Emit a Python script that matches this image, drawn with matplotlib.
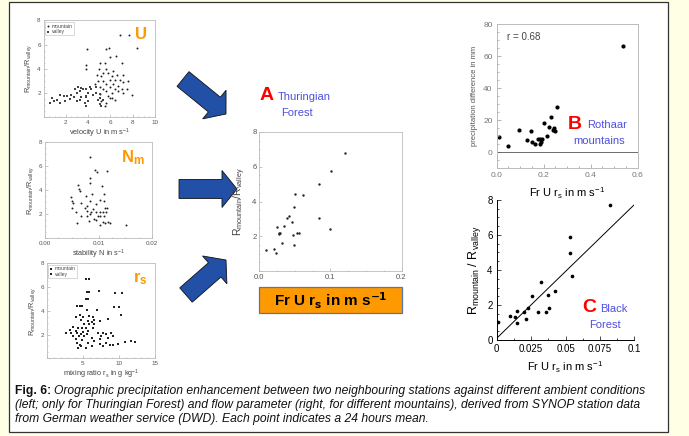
# -*- coding: utf-8 -*-

"""
Fig. 6: orographic precipitation enhancement vs. ambient conditions / flow parameter
"""

import matplotlib
matplotlib.use('Agg')
import matplotlib.pyplot as plt
from matplotlib.patches import Rectangle, FancyArrow
from matplotlib.ticker import MultipleLocator

matplotlib.rcParams['font.family'] = ['Liberation Sans', 'DejaVu Sans']
matplotlib.rcParams['mathtext.default'] = 'regular'

W, H = 689, 436

# ---- U panel (velocity) ----
u_mountain_x = [7.7, 6.85, 8.4, 3.9, 5.6, 5.9, 6.5, 5.95, 5.05, 3.8, 3.8, 7.0, 5.5, 5.0, 5.65,
                6.25, 5.8, 6.55, 7.1, 4.8, 5.2, 5.95, 6.4, 6.85, 5.35, 4.9, 7.15, 7.6, 5.65, 6.25,
                6.7, 5.95, 5.05, 4.6, 6.4, 7.0, 7.45, 6.1, 6.7, 7.15, 7.9, 5.35, 5.65, 6.1, 5.35,
                6.1, 5.05, 5.5, 5.65, 6.4, 5.2, 5.95, 5.8]
u_mountain_y = [6.8, 6.8, 5.75, 5.6, 5.6, 5.75, 5.05, 5.0, 4.45, 4.3, 4.0, 4.45, 4.45, 3.95, 3.95,
                3.8, 3.65, 3.5, 3.5, 3.45, 3.4, 3.1, 3.1, 3.1, 2.95, 2.95, 2.9, 2.95, 2.7, 2.7,
                2.6, 2.5, 2.5, 2.7, 2.35, 2.3, 2.35, 2.0, 2.15, 1.95, 1.8, 2.35, 2.15, 1.6, 3.65,
                3.4, 1.9, 0.95, 1.15, 1.45, 1.3, 1.55, 1.7]
u_valley_x = [4.15, 3.85, 3.55, 3.3, 4.3, 4.75, 5.05, 3.0, 2.5, 2.1, 1.8, 1.5, 2.4, 2.75, 3.4,
              3.8, 4.0, 4.4, 1.2, 0.6, 0.9, 1.9, 3.0, 3.3, 3.7, 4.0, 5.05, 5.35, 5.05, 3.85,
              1.5, 0.75, 2.85, 3.1, 3.4, 4.75, 3.85, 4.9, 5.2]
u_valley_y = [2.5, 2.35, 2.3, 2.15, 2.3, 2.0, 1.9, 2.0, 1.85, 1.7, 1.7, 1.85, 1.5, 1.65, 1.65,
              1.7, 1.95, 1.8, 1.45, 1.15, 1.3, 1.3, 1.35, 1.45, 1.15, 1.3, 1.6, 1.45, 1.05, 0.95,
              1.15, 1.6, 2.3, 2.5, 2.4, 2.5, 1.65, 1.45, 0.95]

# ---- N_m panel (stability) ----
n_x = [0.00833, 0.00926, 0.00975, 0.01154, 0.00846, 0.00833, 0.00617, 0.01062, 0.0063, 0.00648,
       0.00877, 0.01111, 0.00481, 0.00772, 0.00512, 0.00525, 0.00667, 0.00833, 0.01019, 0.01099,
       0.00957, 0.00784, 0.00506, 0.0074, 0.00895, 0.0113, 0.01167, 0.00586, 0.00784, 0.00864,
       0.00957, 0.01019, 0.0108, 0.01136, 0.00667, 0.00784, 0.00833, 0.01037, 0.01099, 0.00907,
       0.00821, 0.00957, 0.0108, 0.0113, 0.01173, 0.01222, 0.00599, 0.01019, 0.01512, 0.00994]
n_y = [6.77, 5.68, 5.54, 5.62, 5.0, 4.59, 4.43, 4.32, 4.05, 3.91,
       3.69, 3.69, 3.42, 3.5, 3.06, 2.95, 2.9, 3.06, 3.17, 3.06,
       2.82, 2.68, 2.54, 2.46, 2.4, 2.54, 2.51, 2.2, 2.23, 2.19,
       2.2, 2.13, 2.19, 2.2, 1.86, 1.86, 1.97, 1.8, 1.86, 1.59,
       1.43, 1.51, 1.37, 1.21, 1.32, 1.24, 1.24, 1.05, 1.05, 1.86]

# ---- r_s panel (mixing ratio) ----
rs_mountain_x = [5.46, 5.83, 5.6, 5.9, 7.2, 9.5, 10.4, 5.4, 5.7, 4.6, 4.9, 5.5, 6.9, 9.3, 10.0,
                 10.3, 5.8, 6.4, 5.7, 6.2, 6.5, 5.9, 6.6, 7.3, 8.5, 6.4, 5.7, 7.05, 7.8, 8.2,
                 8.9, 6.2, 7.55, 8.5, 7.3, 9.2, 6.6, 7.3, 8.2, 9.2, 9.9, 10.8, 11.7, 12.2, 8.7,
                 7.8, 6.2]
rs_mountain_y = [6.68, 6.68, 5.58, 5.6, 5.67, 5.53, 5.53, 4.99, 4.99, 4.38, 4.38, 4.03, 4.03, 4.3, 4.3,
                 3.62, 3.56, 3.48, 3.12, 3.07, 3.2, 2.85, 2.93, 3.12, 3.34, 2.58, 2.3, 2.1, 2.1, 2.03,
                 2.1, 1.75, 1.92, 1.75, 1.64, 1.84, 1.42, 1.2, 1.29, 1.15, 1.2, 1.37, 1.42, 1.37, 1.1,
                 1.01, 1.01]
rs_valley_x = [4.2, 4.55, 4.1, 5.0, 4.8, 5.2, 3.6, 4.3, 4.9, 5.46, 3.15, 4.0, 5.0, 2.7, 3.4,
               4.2, 4.8, 5.55, 3.6, 4.45, 5.2, 4.0, 4.9, 4.2, 4.55, 5.7, 4.8, 5.4, 4.3]
rs_valley_y = [4.38, 3.62, 3.48, 3.48, 3.2, 2.93, 2.66, 2.58, 2.52, 2.58, 2.38, 2.3, 2.25, 2.1, 2.1,
               2.1, 2.03, 2.03, 1.84, 1.84, 1.84, 1.64, 1.56, 1.29, 1.15, 1.29, 1.01, 0.88, 0.88]

# ---- A: Thuringian Forest ----
a_x = [0.0089, 0.0207, 0.0235, 0.0254, 0.0273, 0.0278, 0.0292, 0.0325, 0.0344, 0.0386, 0.0424, 0.0461,
       0.0475, 0.0485, 0.049, 0.0508, 0.0536, 0.0555, 0.0612, 0.0842, 0.0842, 0.0993, 0.1012, 0.121]
a_y = [1.2, 1.24, 1.03, 2.55, 2.19, 2.12, 2.17, 1.62, 2.59, 3.03, 3.17, 2.82,
       2.09, 3.7, 1.48, 4.45, 2.21, 2.19, 4.35, 5.03, 3.05, 2.44, 5.74, 6.77]

# ---- B: Rothaar mountains ----
b_x = [0.01, 0.05, 0.096, 0.129, 0.147, 0.15, 0.164, 0.174, 0.186, 0.19, 0.193,
       0.186, 0.2, 0.214, 0.221, 0.229, 0.24, 0.243, 0.246, 0.256, 0.539]
b_y = [9.3, 4.1, 14.1, 7.9, 13.0, 6.2, 5.2, 8.5, 8.3, 6.2, 8.3,
       5.2, 18.2, 10.0, 15.5, 22.0, 14.1, 15.1, 13.0, 28.2, 66.7]

# ---- C: Black Forest ----
c_x = [0.00125, 0.01, 0.0133, 0.0145, 0.015, 0.02, 0.0215, 0.0225, 0.026, 0.03, 0.032,
       0.0355, 0.037, 0.038, 0.0425, 0.053, 0.053, 0.055, 0.0825]
c_y = [1.05, 1.37, 1.31, 0.95, 1.68, 1.58, 1.22, 1.81, 2.53, 1.58, 3.3,
       1.58, 2.59, 1.81, 2.82, 5.87, 4.95, 3.68, 7.7]
c_line_x = [0.0, 0.1035]
c_line_y = [0.1, 8.0]

caption_lines = [
    'Orographic precipitation enhancement between two neighbouring stations against different ambient conditions',
    '(left; only for Thuringian Forest) and flow parameter (right, for different mountains), derived from SYNOP station data',
    'from German weather service (DWD). Each point indicates a 24 hours mean.',
]

ORANGE = '#FF9900'
BLUE_TXT = '#4F4FE0'
CAP_SIZE = 8.7


def box(left, top, right, bottom):
    """pixel box -> figure fraction rect"""
    return [left / W, 1 - bottom / H, (right - left) / W, (bottom - top) / H]


def fx(x):
    return x / W


def fy(y):
    return 1 - y / H


def small_axes(fig, rect, xlim, ylim, xmaj, ymaj, xmin, ymin):
    ax = fig.add_axes(rect)
    ax.set_xlim(xlim)
    ax.set_ylim(ylim)
    ax.xaxis.set_major_locator(MultipleLocator(xmaj))
    ax.yaxis.set_major_locator(MultipleLocator(ymaj))
    ax.xaxis.set_minor_locator(MultipleLocator(xmin))
    ax.yaxis.set_minor_locator(MultipleLocator(ymin))
    ax.tick_params(which='both', direction='in', colors='#999999', labelcolor='#555555',
                   labelsize=4.5, width=0.4, pad=2)
    ax.tick_params(which='major', length=2)
    ax.tick_params(which='minor', length=1)
    for sp in ax.spines.values():
        sp.set_color('#BBBBBB')
        sp.set_linewidth(0.6)
    ax.set_ylabel('R$_{mountain}$/R$_{valley}$', fontsize=5.3, color='#444444', labelpad=2)
    return ax


def hide_zero(ax, axis='both'):
    fmt = lambda v, p: '' if abs(v) < 1e-12 else '{:g}'.format(v)
    if axis in ('x', 'both'):
        ax.xaxis.set_major_formatter(fmt)
    if axis in ('y', 'both'):
        ax.yaxis.set_major_formatter(fmt)


def small_legend(ax):
    leg = ax.legend(loc='upper left', fontsize=3.6, frameon=True, handlelength=0.6,
                    handletextpad=0.4, borderpad=0.3, labelspacing=0.1, borderaxespad=0.3,
                    fancybox=False)
    leg.get_frame().set_edgecolor('#AAAAAA')
    leg.get_frame().set_linewidth(0.4)
    for t in leg.get_texts():
        t.set_color('#444444')


def main():
    fig = plt.figure(figsize=(W / 100, H / 100), dpi=100)
    fig.patch.set_facecolor('#FFFFE6')

    # overlay in pixel coordinates for panel, arrows and box
    bg = fig.add_axes([0, 0, 1, 1])
    bg.set_xlim(0, W)
    bg.set_ylim(H, 0)
    bg.axis('off')
    bg.add_patch(Rectangle((9, 2), 659, 430, fc='white', ec='#333333', lw=0.9))

    # arrows
    arrow_kw = dict(width=19, head_width=37, head_length=15, length_includes_head=True,
                    fc='#2150A6', ec='#111111', lw=0.6)
    bg.add_patch(FancyArrow(183, 79, 43, 35, **arrow_kw))
    bg.add_patch(FancyArrow(179, 189, 58, 0, **arrow_kw))
    bg.add_patch(FancyArrow(186, 295, 40, -35, **arrow_kw))

    # orange box
    bg.add_patch(Rectangle((259, 287), 143, 26, fc=ORANGE, ec='#5A74A8', lw=0.9))
    bg.text(330.5, 300.5, r'Fr U r$_\mathbf{s}$ in m s$^\mathbf{-1}$', ha='center', va='center',
            fontsize=11, fontweight='bold', color='black')

    # ---- U ----
    ax = small_axes(fig, box(43.5, 20.5, 155, 117), (0, 10), (0, 8), 2, 2, 0.5, 0.5)
    ax.scatter(u_mountain_x, u_mountain_y, s=2, c='#222222', marker='o', lw=0, label='mountain')
    ax.scatter(u_valley_x, u_valley_y, s=2, c='#444444', marker='s', lw=0, label='valley')
    hide_zero(ax)
    small_legend(ax)
    ax.set_xlabel('velocity U in m s$^{-1}$', fontsize=5.3, color='#444444', labelpad=1.5)
    ax.text(0.93, 0.93, 'U', transform=ax.transAxes, ha='right', va='top',
            fontsize=12, fontweight='bold', color=ORANGE)

    # ---- N_m ----
    ax = small_axes(fig, box(45, 142, 152, 238), (0, 0.02), (0, 8), 0.01, 2, 0.0025, 0.5)
    ax.scatter(n_x, n_y, s=2, c='#222222', marker='o', lw=0)
    hide_zero(ax, 'y')
    ax.set_xlabel('stability N in s$^{-1}$', fontsize=5.3, color='#444444', labelpad=1.5)
    ax.text(0.93, 0.93, 'N$_m$', transform=ax.transAxes, ha='right', va='top',
            fontsize=12, fontweight='bold', color=ORANGE)

    # ---- r_s ----
    ax = small_axes(fig, box(46.7, 263.3, 155.3, 358.3), (0, 15), (0, 8), 5, 2, 1, 0.5)
    ax.scatter(rs_mountain_x, rs_mountain_y, s=2.2, c='#222222', marker='s', lw=0, label='mountain')
    ax.scatter(rs_valley_x, rs_valley_y, s=2.2, c='#222222', marker='s', lw=0, label='valley')
    hide_zero(ax)
    small_legend(ax)
    ax.set_xlabel('mixing ratio r$_s$ in g kg$^{-1}$', fontsize=5.3, color='#444444', labelpad=1.5)
    ax.text(0.93, 0.93, 'r$_s$', transform=ax.transAxes, ha='right', va='top',
            fontsize=12, fontweight='bold', color=ORANGE)

    # ---- A ----
    ax = small_axes(fig, box(259.3, 132, 401.5, 271), (0, 0.2), (0, 8), 0.1, 2, 0.025, 0.5)
    ax.scatter(a_x, a_y, s=3, c='#222222', marker='o', lw=0)
    ax.tick_params(labelsize=5.5)
    hide_zero(ax, 'y')
    ax.set_ylabel('R$_{mountain}$/R$_{valley}$', fontsize=7.5, color='#444444', labelpad=3)
    fig.text(fx(260), fy(96), 'A', fontsize=14, fontweight='bold', color='red', va='center')
    fig.text(fx(278), fy(97), 'Thuringian', fontsize=8, color=BLUE_TXT, va='center')
    fig.text(fx(281), fy(113), 'Forest', fontsize=8, color=BLUE_TXT, va='center')

    # ---- B ----
    ax = fig.add_axes(box(496.7, 24.3, 637.7, 168.3))
    ax.scatter(b_x, b_y, s=9, c='black', lw=0)
    ax.axhline(0, color='#555555', lw=0.6)
    ax.set_xlim(0, 0.6)
    ax.set_ylim(-10, 80)
    ax.xaxis.set_major_locator(MultipleLocator(0.2))
    ax.xaxis.set_minor_locator(MultipleLocator(0.05))
    ax.yaxis.set_major_locator(MultipleLocator(20))
    ax.yaxis.set_minor_locator(MultipleLocator(5))
    ax.tick_params(which='both', direction='in', colors='#999999', labelcolor='#777777',
                   labelsize=6, width=0.5, pad=3)
    ax.tick_params(which='major', length=3)
    ax.tick_params(which='minor', length=1.5)
    for sp in ax.spines.values():
        sp.set_color('#BBBBBB')
        sp.set_linewidth(0.7)
    ax.set_ylabel('precipitation difference in mm', fontsize=5.5, color='#555555', labelpad=4)
    ax.set_xlabel(r'Fr U r$_s$ in m s$^{-1}$', fontsize=8, color='black', labelpad=4)
    ax.text(0.07, 0.91, 'r = 0.68', transform=ax.transAxes, fontsize=7, color='#444444', va='center')
    fig.text(fx(568), fy(124), 'B', fontsize=14, fontweight='bold', color='red', va='center')
    fig.text(fx(587), fy(125), 'Rothaar', fontsize=8, color=BLUE_TXT, va='center')
    fig.text(fx(573), fy(141), 'mountains', fontsize=8, color=BLUE_TXT, va='center')

    # ---- C ----
    ax = fig.add_axes(box(496.7, 200, 634.3, 340))
    ax.scatter(c_x, c_y, s=7, c='black', lw=0)
    ax.plot(c_line_x, c_line_y, color='black', lw=0.7)
    ax.set_xlim(0, 0.1)
    ax.set_ylim(0, 8)
    ax.xaxis.set_major_locator(MultipleLocator(0.025))
    ax.xaxis.set_minor_locator(MultipleLocator(0.0125))
    ax.yaxis.set_major_locator(MultipleLocator(2))
    ax.yaxis.set_minor_locator(MultipleLocator(0.5))
    ax.xaxis.set_major_formatter(lambda v, p: '{:g}'.format(round(v, 4)))
    ax.tick_params(which='both', direction='in', labelsize=7, width=0.5, pad=3)
    ax.tick_params(which='major', length=3)
    ax.tick_params(which='minor', length=1.5)
    ax.spines['top'].set_visible(False)
    ax.spines['right'].set_visible(False)
    for sp in ax.spines.values():
        sp.set_linewidth(0.7)
    ax.set_ylabel('R$_{mountain}$ / R$_{valley}$', fontsize=9, labelpad=3)
    ax.set_xlabel(r'Fr U r$_s$ in m s$^{-1}$', fontsize=8, labelpad=4)
    fig.text(fx(582), fy(307), 'C', fontsize=14, fontweight='bold', color='red', va='center')
    fig.text(fx(600), fy(309), 'Black', fontsize=8, color=BLUE_TXT, va='center')
    fig.text(fx(589), fy(325), 'Forest', fontsize=8, color=BLUE_TXT, va='center')

    # caption
    t = fig.text(fx(15), fy(391), 'Fig. 6: ', fontsize=CAP_SIZE, fontweight='bold',
                 color='#111111', va='center')
    bg.annotate(caption_lines[0], xy=(1, 0.5), xycoords=t, va='center', fontsize=CAP_SIZE,
                style='italic', color='#111111')
    fig.text(fx(15), fy(405), caption_lines[1], fontsize=CAP_SIZE, style='italic',
             color='#111111', va='center')
    fig.text(fx(15), fy(419), caption_lines[2], fontsize=CAP_SIZE, style='italic',
             color='#111111', va='center')

    fig.savefig('out.png', dpi=100, facecolor=fig.get_facecolor())


if __name__ == '__main__':
    main()
